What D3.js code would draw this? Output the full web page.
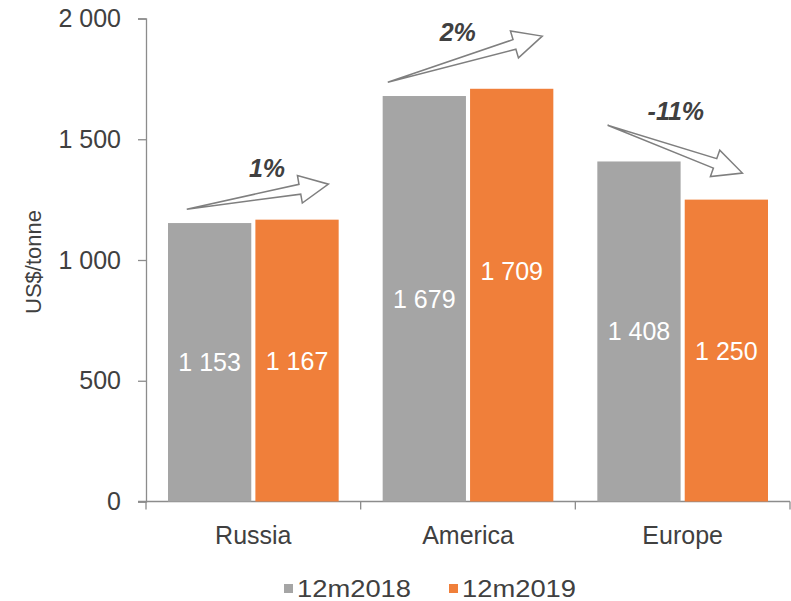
<!DOCTYPE html>
<html>
<head>
<meta charset="utf-8">
<script src="https://cdn.jsdelivr.net/npm/d3@7/dist/d3.min.js"></script>
<style>
  html, body { margin: 0; padding: 0; background: #fff; }
  svg { display: block; font-family: "Liberation Sans", Arial, sans-serif; }
</style>
</head>
<body>
<svg id="chart" width="791" height="601"></svg>
<script>
// Average prices by region, US$/tonne
const regions = ["Russia", "America", "Europe"];
const seriesNames = ["12m2018", "12m2019"];
const prices2018 = [1153, 1679, 1408];
const prices2019 = [1167, 1709, 1250];
const changeLabels = ["1%", "2%", "-11%"];
const yTicks = [0, 500, 1000, 1500, 2000];
const colors = ["#a5a5a5", "#f07f3a"];

// Trend arrows: [x fraction of group, value] for tail and tip, plus label anchor
const arrowTail = [[0.11, 1210], [0.03, 1736], [0.06, 1558]];
const arrowTip = [[0.94, 1314], [0.935, 1927], [0.85, 1360]];
const arrowLabel = [[0.58, 1380], [0.44, 1945], [0.46, 1615]];

const svg = d3.select("#chart");
const textColor = "#404040";
const axisColor = "#8c8c8c";
const fs = 25;
const fmt = v => d3.format(",")(v).replace(/,/g, " ");

const y = d3.scaleLinear().domain([0, 2000]).range([501.5, 18.5]);
const x0 = d3.scaleBand().domain(regions).range([146, 790]).padding(0);
const x1 = d3.scaleBand().domain(seriesNames)
  .range([22, x0.bandwidth() - 22]).paddingInner(0.047).paddingOuter(0);

const rows = regions.map((r, i) => ({ region: r, values: [prices2018[i], prices2019[i]] }));

// Y axis
const yAxis = d3.axisLeft(y).tickValues(yTicks).tickSize(8).tickPadding(17).tickFormat(fmt);
const gy = svg.append("g").attr("transform", "translate(146,0)").call(yAxis);
gy.select(".domain").attr("stroke", axisColor).attr("stroke-width", 1.3);
gy.selectAll(".tick line").attr("stroke", axisColor).attr("stroke-width", 1.3);
gy.selectAll(".tick text").attr("fill", textColor).attr("font-size", fs)
  .attr("font-family", "Liberation Sans, Arial, sans-serif");

// X axis with ticks at category boundaries
const gx = svg.append("g").attr("transform", `translate(0,${y(0)})`);
gx.append("line").attr("x1", 138).attr("x2", 790).attr("y1", 0).attr("y2", 0)
  .attr("stroke", axisColor).attr("stroke-width", 1.3);
const bounds = regions.map(r => x0(r)).concat([x0.range()[1]]);
gx.selectAll("line.b").data(bounds).enter().append("line").attr("class", "b")
  .attr("x1", d => d).attr("x2", d => d).attr("y1", 0).attr("y2", 8)
  .attr("stroke", axisColor).attr("stroke-width", 1.3);
gx.selectAll("text").data(regions).enter().append("text")
  .attr("x", d => x0(d) + x0.bandwidth() / 2).attr("y", 42)
  .attr("text-anchor", "middle").attr("fill", textColor).attr("font-size", fs)
  .text(d => d);

// Y title
svg.append("text")
  .attr("transform", "translate(33,262) rotate(-90)")
  .attr("text-anchor", "middle").attr("dominant-baseline", "central")
  .attr("fill", textColor).attr("font-size", 22).text("US$/tonne");

// Bars
const groups = svg.selectAll("g.grp").data(rows).enter().append("g")
  .attr("class", "grp").attr("transform", d => `translate(${x0(d.region)},0)`);

groups.selectAll("rect").data(d => d.values.map((v, k) => ({ k, v, region: d.region })))
  .enter().append("rect")
  .attr("x", d => x1(seriesNames[d.k])).attr("width", x1.bandwidth())
  .attr("y", d => y(d.v)).attr("height", d => y(0) - y(d.v))
  .attr("fill", d => colors[d.k]);

// Value labels centred in bars; the taller America bar label is lifted to keep it clear
groups.selectAll("text.val").data(d => d.values.map((v, k) => ({ k, v, region: d.region })))
  .enter().append("text").attr("class", "val")
  .attr("x", d => x1(seriesNames[d.k]) + x1.bandwidth() / 2)
  .attr("y", d => y(d.v / 2) + (d.region === "America" && d.k === 1 ? -24 : 0))
  .attr("text-anchor", "middle").attr("dominant-baseline", "central")
  .attr("fill", "#ffffff").attr("font-size", fs).text(d => fmt(d.v));

// Hollow trend arrows
const groupLeft = r => x0(r) + x1(seriesNames[0]);
const groupWidth = x1(seriesNames[1]) + x1.bandwidth() - x1(seriesNames[0]);
function arrowPath(L) {
  const h = 29, H = 14, w = 5;
  return `M0,0 L${L - h},${-w} L${L - h},${-H} L${L},0 L${L - h},${H} L${L - h},${w} Z`;
}
regions.forEach((r, i) => {
  const tx = groupLeft(r) + arrowTail[i][0] * groupWidth, ty = y(arrowTail[i][1]);
  const hx = groupLeft(r) + arrowTip[i][0] * groupWidth, hy = y(arrowTip[i][1]);
  const L = Math.hypot(hx - tx, hy - ty);
  const ang = Math.atan2(hy - ty, hx - tx) * 180 / Math.PI;
  svg.append("path")
    .attr("d", arrowPath(L))
    .attr("transform", `translate(${tx},${ty}) rotate(${ang})`)
    .attr("fill", "#ffffff").attr("stroke", "#7f7f7f").attr("stroke-width", 1.5)
    .attr("stroke-linejoin", "miter");
  svg.append("text")
    .attr("x", groupLeft(r) + arrowLabel[i][0] * groupWidth)
    .attr("y", y(arrowLabel[i][1]))
    .attr("text-anchor", "middle").attr("dominant-baseline", "central")
    .attr("font-weight", "bold").attr("font-style", "italic")
    .attr("fill", textColor).attr("font-size", fs).text(changeLabels[i]);
});

// Legend
const legend = svg.append("g").attr("transform", "translate(0,588)");
const legendX = [284, 449];
seriesNames.forEach((s, k) => {
  legend.append("rect").attr("x", legendX[k]).attr("y", -4).attr("width", 9).attr("height", 9)
    .attr("fill", colors[k]);
  legend.append("text").attr("x", legendX[k] + 13).attr("y", 0)
    .attr("dominant-baseline", "central").attr("fill", textColor).attr("font-size", 24)
    .attr("textLength", 114).attr("lengthAdjust", "spacingAndGlyphs")
    .text(s);
});
</script>
</body>
</html>
